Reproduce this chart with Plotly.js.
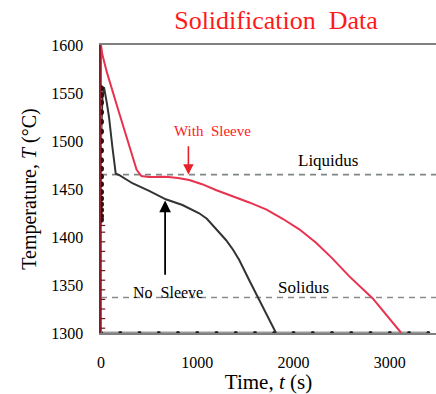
<!DOCTYPE html>
<html>
<head>
<meta charset="utf-8">
<script src="https://cdn.plot.ly/plotly-3.0.1.min.js"></script>
<style>html,body{margin:0;padding:0;background:#fff;}#chart{width:436px;height:394px;}</style>
</head>
<body>
<div id="chart"></div>
<script>
// Time (s) and temperature (°C)
const noSleeveTime = [0, 0, 0, 15, 31, 60, 83, 118, 153, 187, 326, 500, 673, 846, 1020, 1100, 1158, 1230, 1298, 1370, 1436, 1540, 1644, 1748, 1818];
const noSleeveTemp = [1300, 1420, 1500, 1545, 1556, 1540, 1525, 1494, 1466, 1464.6, 1456, 1448, 1439.3, 1433.3, 1424.7, 1419, 1412.5, 1405, 1396.9, 1387, 1376, 1355, 1334, 1313.5, 1300];

const withSleeveTime = [0, 0, 14, 60, 162, 300, 370, 420, 500, 673, 800, 916, 1050, 1193, 1360, 1540, 1720, 1887, 2060, 2234, 2400, 2580, 2823, 3119];
const withSleeveTemp = [1300, 1600, 1590, 1572, 1538, 1492, 1470, 1463.5, 1462.5, 1462.8, 1461.5, 1459.4, 1455, 1449, 1443, 1436, 1428.5, 1419, 1408, 1394, 1378, 1359, 1336, 1300];

const heatingTime = [0, 0, 0, 0, 0, 0, 0, 0, 0, 0, 0, 0, 0, 0, 0, 0, 0, 0];
const heatingTemp = [1418, 1422, 1428, 1434, 1440, 1447, 1455, 1463, 1471, 1480, 1490, 1500, 1510, 1520, 1530, 1540, 1548, 1555];

const axisTickTime = [0, 0, 0, 0, 0, 0, 0, 0, 0, 0, 0, 0];
const axisTickTemp = [1305, 1315, 1325, 1335, 1345, 1355, 1365, 1375, 1385, 1395, 1405, 1412];

const baseTime = [0, 200, 400, 600, 800, 1000, 1200, 1400, 1600, 1800, 2000, 2200, 2400, 2600, 2800, 3000, 3200, 3400];
const baseTemp = [1300, 1300, 1300, 1300, 1300, 1300, 1300, 1300, 1300, 1300, 1300, 1300, 1300, 1300, 1300, 1300, 1300, 1300];

const liquidus = 1465;
const solidus = 1337;
const xRange = [0, 3480];

const xTicks = [0, 1000, 2000, 3000];
const yTicks = [1300, 1350, 1400, 1450, 1500, 1550, 1600];

const serif = "Times New Roman, Liberation Serif, DejaVu Serif, serif";

const traces = [
  {x: [xRange[0], xRange[1]], y: [liquidus, liquidus], mode: 'lines',
   line: {color: '#7f8585', width: 1.6, dash: '6px,5px'}, hoverinfo: 'skip'},
  {x: [xRange[0], xRange[1]], y: [solidus, solidus], mode: 'lines',
   line: {color: '#8a8a8a', width: 1.6, dash: '6px,5px'}, hoverinfo: 'skip'},
  {x: baseTime, y: baseTemp, mode: 'lines+markers',
   line: {color: '#9a9a9a', width: 3}, marker: {color: '#222', size: 4}},
  {x: noSleeveTime, y: noSleeveTemp, mode: 'lines', line: {color: '#333333', width: 2}},
  {x: withSleeveTime, y: withSleeveTemp, mode: 'lines', line: {color: '#e8324e', width: 2}},
  {x: heatingTime, y: heatingTemp, mode: 'markers', marker: {color: '#3a0d0d', size: 6}},
  {x: axisTickTime, y: axisTickTemp, mode: 'markers',
   marker: {color: '#6b1a1a', size: 6, symbol: 'line-ew-open', line: {color: '#6b1a1a', width: 1.2}}}
];

const layout = {
  width: 436, height: 394,
  margin: {l: 101, r: 0, t: 45, b: 61},
  paper_bgcolor: '#fff', plot_bgcolor: '#fff',
  showlegend: false,
  font: {family: serif, color: '#000'},
  title: {text: 'Solidification  Data', font: {family: serif, size: 26, color: '#ff1a1a'},
          x: 0.633, xref: 'container', xanchor: 'center', y: 0.95, yref: 'container', yanchor: 'middle'},
  xaxis: {range: xRange, tickvals: xTicks, ticktext: xTicks.map(String),
          showgrid: false, zeroline: false, showline: true, mirror: true,
          linecolor: '#808080', linewidth: 2, ticks: '', ticklabelstandoff: 14,
          tickfont: {family: serif, size: 16},
          title: {text: 'Time, <i>t</i> (s)', font: {family: serif, size: 21}, standoff: 6}},
  yaxis: {range: [1300, 1600], tickvals: yTicks, ticktext: yTicks.map(String),
          showgrid: false, zeroline: false, showline: true, linecolor: '#8b1a2a', linewidth: 2.5,
          ticks: '', ticklabelstandoff: 12,
          tickfont: {family: serif, size: 16},
          title: {text: 'Temperature, <i>T</i> (°C)', font: {family: serif, size: 20}, standoff: 10}},
  annotations: [
    {x: 1155, y: 1510, text: 'With  Sleeve', showarrow: false, font: {family: serif, size: 15, color: '#ff1a1a'}},
    {x: 2357, y: 1480, text: 'Liquidus', showarrow: false, font: {family: serif, size: 17, color: '#000'}},
    {x: 697, y: 1342, text: 'No  Sleeve', showarrow: false, font: {family: serif, size: 16, color: '#000'}},
    {x: 2102, y: 1347, text: 'Solidus', showarrow: false, font: {family: serif, size: 17, color: '#000'}},
    {x: 908, y: 1465, ax: 908, ay: 1496, axref: 'x', ayref: 'y', xref: 'x', yref: 'y', text: '',
     showarrow: true, arrowhead: 2, arrowsize: 1.3, arrowwidth: 1.6, arrowcolor: '#e8202a'},
    {x: 666, y: 1438, ax: 666, ay: 1359, axref: 'x', ayref: 'y', xref: 'x', yref: 'y', text: '',
     showarrow: true, arrowhead: 2, arrowsize: 1.3, arrowwidth: 1.8, arrowcolor: '#000'}
  ]
};

Plotly.newPlot('chart', traces, layout, {displayModeBar: false, staticPlot: true});
</script>
</body>
</html>
